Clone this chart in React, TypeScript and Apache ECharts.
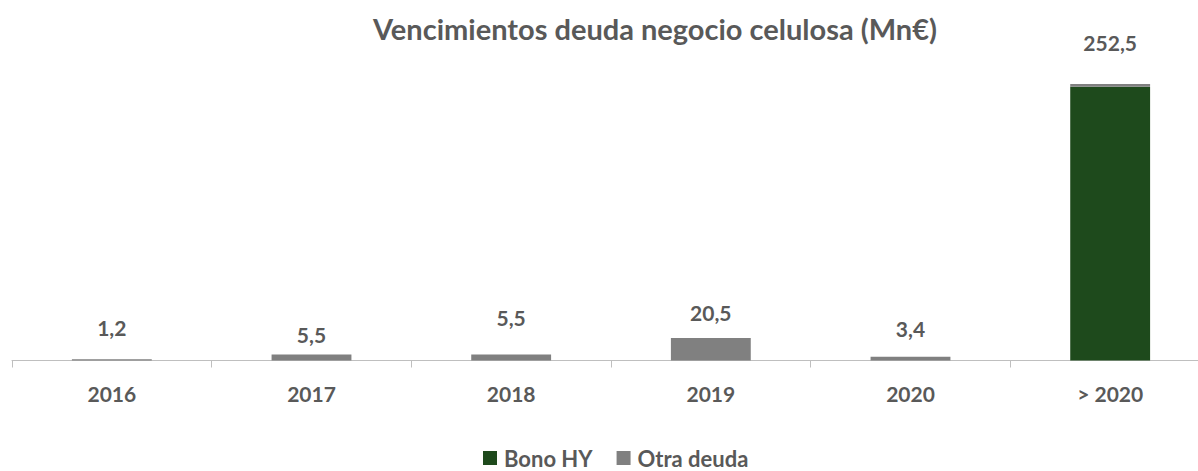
import React, { useEffect, useRef } from "react";
import * as echarts from "echarts";

const categories = ["2016", "2017", "2018", "2019", "2020", "> 2020"];
const bonoHY = [0, 0, 0, 0, 0, 250];
const otraDeuda = [1.2, 5.5, 5.5, 20.5, 3.4, 2.5];
const totals = [1.2, 5.5, 5.5, 20.5, 3.4, 252.5];
const labelLift = [21, 9, 26, 15.5, 17.5, 31.5];

const FONT = "Lato";
const TEXT = "#595959";

export default function App() {
  const ref = useRef<HTMLDivElement>(null);
  useEffect(() => {
    if (!ref.current) return;
    const chart = echarts.init(ref.current, null, { renderer: "svg" });
    chart.setOption({
      animation: false,
      backgroundColor: "#ffffff",
      graphic: [
        {
          type: "text",
          x: 655,
          y: 28,
          style: {
            text: "Vencimientos deuda negocio celulosa (Mn€)",
            font: `bold 29px ${FONT}`,
            fill: TEXT,
            textAlign: "center",
            textVerticalAlign: "middle",
          },
        },
      ],
      legend: {
        left: 478,
        top: 441,
        itemWidth: 14,
        itemHeight: 14,
        itemGap: 24,
        icon: "rect",
        data: ["Bono HY", "Otra deuda"],
        textStyle: {
          fontFamily: FONT,
          fontWeight: "bold",
          fontSize: 22,
          lineHeight: 24,
          color: TEXT,
          padding: [0, 0, 0, 2],
        },
      },
      grid: { left: 12, right: 0, top: 32, bottom: 110.5, containLabel: false },
      xAxis: {
        type: "category",
        data: categories,
        axisLine: { lineStyle: { color: "#bfbfbf", width: 1 } },
        axisTick: { show: true, length: 7, lineStyle: { color: "#bfbfbf" } },
        axisLabel: {
          margin: 22,
          fontFamily: FONT,
          fontWeight: "bold",
          fontSize: 21,
          color: TEXT,
        },
      },
      yAxis: {
        type: "value",
        min: 0,
        max: 300,
        show: false,
        splitLine: { show: false },
      },
      series: [
        {
          name: "Bono HY",
          type: "bar",
          stack: "deuda",
          data: bonoHY,
          barCategoryGap: "60%",
          itemStyle: { color: "#1e4a1c" },
        },
        {
          name: "Otra deuda",
          type: "bar",
          stack: "deuda",
          barCategoryGap: "60%",
          itemStyle: { color: "#808080" },
          data: otraDeuda.map((v, i) => ({
            value: v,
            label: {
              show: true,
              position: "top",
              distance: labelLift[i],
              formatter: () => totals[i].toFixed(1).replace(".", ","),
              fontFamily: FONT,
              fontWeight: "bold",
              fontSize: 21,
              color: TEXT,
            },
          })),
        },
      ],
    });
    return () => chart.dispose();
  }, []);
  return (
    <div
      style={{
        position: "fixed",
        left: 0,
        top: 0,
        width: 1198,
        height: 471,
        overflow: "hidden",
        background: "#ffffff",
      }}
    >
      <div ref={ref} style={{ width: 1210, height: 471 }} />
    </div>
  );
}
